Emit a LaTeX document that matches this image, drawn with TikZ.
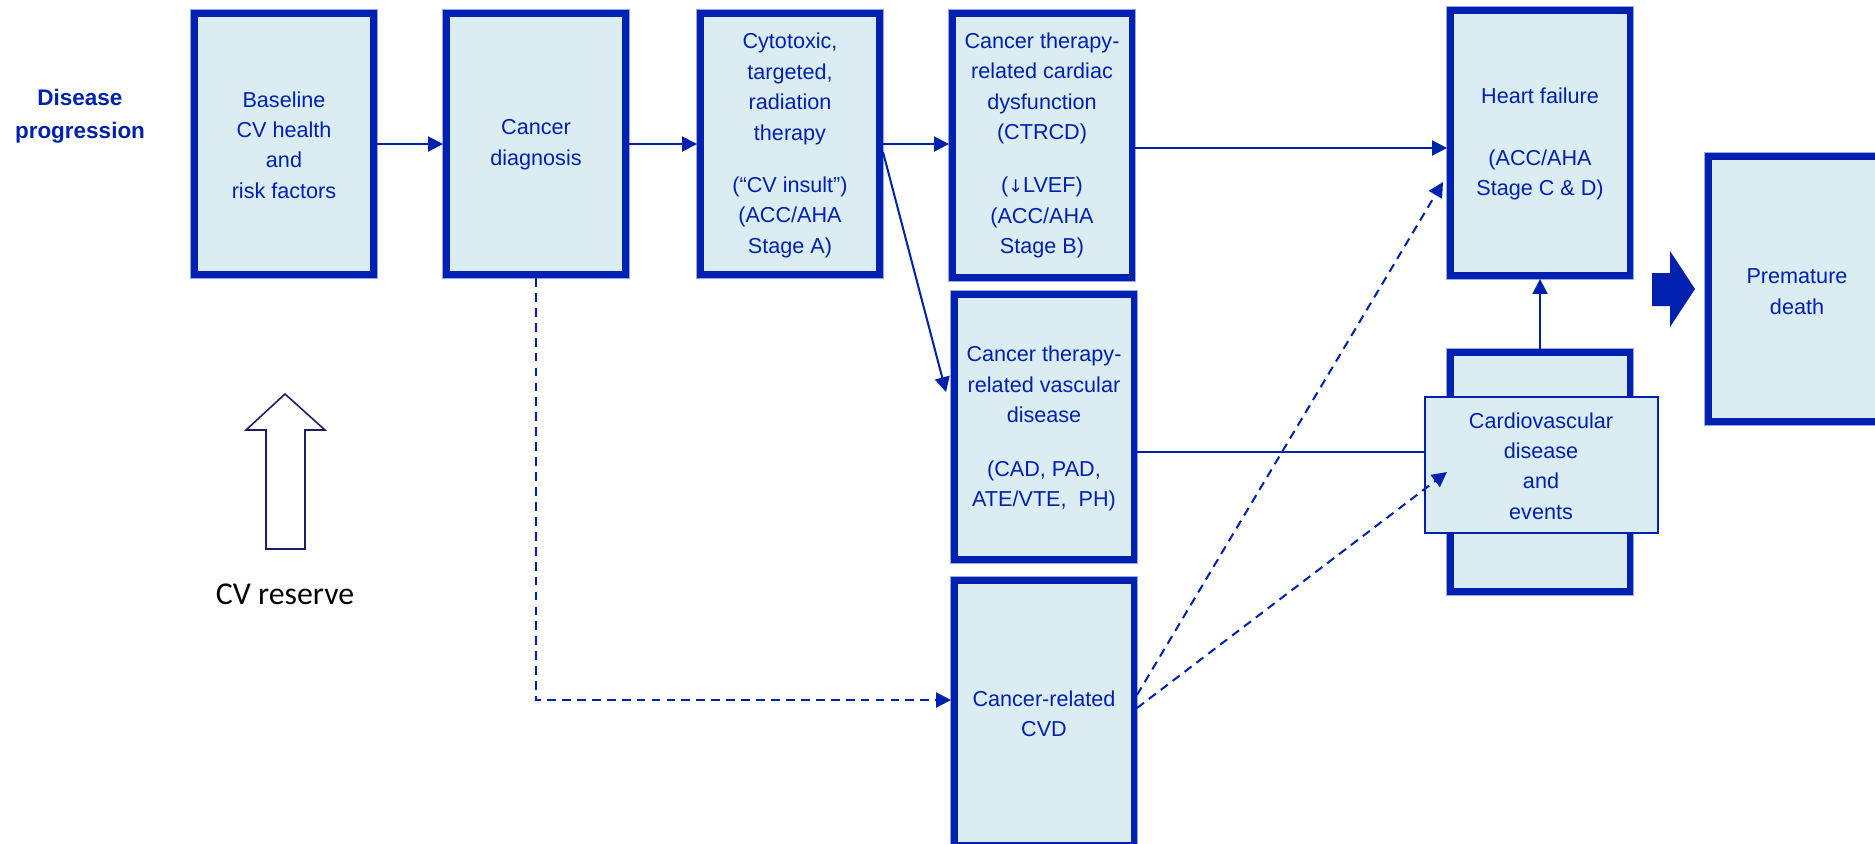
\documentclass[tikz,border=0pt]{standalone}
\usepackage{fontspec}
\setmainfont{Liberation Sans}
\newfontfamily\calfont{Carlito}
\newfontfamily\symfont{DejaVu Sans}
\usetikzlibrary{arrows.meta}
\definecolor{boxblue}{RGB}{0,33,175}
\definecolor{boxrim}{RGB}{150,170,232}
\definecolor{boxfill}{RGB}{219,236,243}
\definecolor{navy}{RGB}{28,30,100}

\begin{document}
\begin{tikzpicture}[x=0.02cm, y=-0.02cm,
  stagebox/.style={rectangle, draw=boxblue, fill=boxfill, line width=0.13cm,
    preaction={draw=boxrim, line width=0.17cm},
    minimum width=3.59cm, minimum height=5.31cm, inner sep=0pt},
  thinbox/.style={rectangle, draw=boxblue, fill=boxfill, line width=0.04cm,
    minimum width=4.66cm, minimum height=2.72cm, inner sep=0pt},
  boxtext/.style={text=boxblue, font=\fontsize{12.3pt}{17.3pt}\selectfont,
    align=center, inner sep=0pt},
  link/.style={draw=boxblue, line width=1.15pt, -{Triangle[length=8.5pt,width=8.5pt]}},
  dlink/.style={link, dash pattern=on 5pt off 3.5pt},
  plain/.style={draw=boxblue, line width=1.15pt},
]
\useasboundingbox (0,0) rectangle (1875,843);
\clip (0,0) rectangle (1875,843);

% row label
\node[text=boxblue, font=\fontsize{12.8pt}{18.7pt}\selectfont\bfseries, align=center]
  (dp) at (80,116) {Disease\\progression};

% main stage boxes
\node[stagebox, minimum height=5.23cm] (base)  at (284,144)  {};
\node[stagebox, minimum height=5.23cm] (cdx)   at (536,144)  {};
\node[stagebox, minimum height=5.23cm] (cyto)  at (790,144)  {};
\node[stagebox, minimum height=5.29cm] (ctrcd) at (1042,145.5) {};
\node[stagebox] (hf)    at (1540,143) {};
\node[stagebox] (pd)    at (1798,289) {};
\node[stagebox] (ctrvd) at (1044,427) {};
\node[stagebox] (cvd)   at (1044,713) {};
\node[stagebox, minimum height=4.79cm] (cvthick) at (1540,472) {};
\node[thinbox] (cvthin) at (1541.5,465) {};

% box texts
\node[boxtext] (tbase) at (284,145) {Baseline\\CV health\\and\\risk factors};
\node[boxtext] (tcdx) at (536,144.5) {Cancer\\diagnosis};
\node[boxtext] (tcyto) at (790,145.5) {Cytotoxic,\\targeted,\\radiation\\therapy\\[0.44cm](“CV insult”)\\(ACC/AHA\\Stage A)};
\node[boxtext] (tctrcd) at (1042,145.5) {Cancer therapy-\\related cardiac\\dysfunction\\(CTRCD)\\[0.46cm]({\symfont\fontsize{10pt}{17.3pt}\selectfont ↓}LVEF)\\(ACC/AHA\\Stage B)};
\node[boxtext] (thf) at (1540,144) {Heart failure\\[0.64cm](ACC/AHA\\Stage C \& D)};
\node[boxtext] (tpd) at (1797,291.5) {Premature\\death};
\node[boxtext] (tctrvd) at (1044,428.5) {Cancer therapy-\\related vascular\\disease\\[0.46cm](CAD, PAD,\\ATE/VTE,\ \ PH)};
\node[boxtext] (tcvd) at (1044,714) {Cancer-related\\CVD};
\node[boxtext] (tcv) at (1541,466) {Cardiovascular\\disease\\and\\events};

% CV reserve
\draw[navy, line width=0.9pt, fill=white]
  (285,394) -- (325,430) -- (305,430) -- (305,549) -- (266,549) -- (266,430) -- (246,430) -- cycle;
\node[font=\calfont\fontsize{18.1pt}{21pt}\selectfont, text=black] (cvr) at (285,594) {CV reserve};

% block arrow towards premature death
\fill[boxblue] (1652,273) -- (1670,273) -- (1670,251) -- (1695,289) -- (1670,327) -- (1670,306) -- (1652,306) -- cycle;

% connectors
\draw[link] (base.east) -- (cdx.west);
\draw[link] (cdx.east) -- (cyto.west);
\draw[link] (cyto.east) -- (cyto.east -| ctrcd.west);
\draw[link] ([yshift=-0.05cm]ctrcd.east) -- ([yshift=-0.05cm]ctrcd.east -| hf.west);
\coordinate (vin) at ([xshift=-0.1cm,yshift=0.7cm]ctrvd.west);
\draw[link] ([yshift=-0.16cm]cyto.east) -- (vin);
\coordinate (vl) at ([yshift=-0.5cm]ctrvd.east);
\draw[plain] (vl) -- (vl -| cvthin.west);
\draw[link] (cvthick.north) -- (hf.south);
\coordinate (cvdin) at ([yshift=0.26cm]cvd.west);
\draw[dlink] (cdx.south) |- (cvdin);
\coordinate (hfin) at ([xshift=-0.08cm,yshift=-0.78cm]hf.west);
\draw[dlink] ([yshift=0.36cm]cvd.east) -- (hfin);
\draw[dlink] ([yshift=0.1cm]cvd.east) -- (cvthick.west);
\end{tikzpicture}
\end{document}
